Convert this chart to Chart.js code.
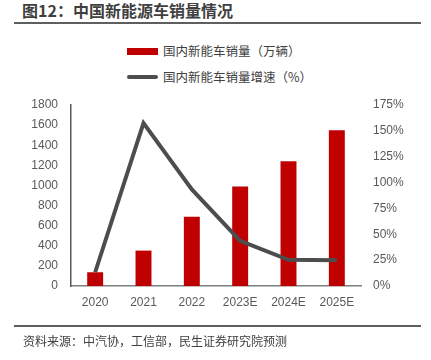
<!DOCTYPE html>
<html><head><meta charset="utf-8">
<script src="https://cdn.jsdelivr.net/npm/chart.js@4/dist/chart.umd.min.js"></script>
<style>
html,body{margin:0;padding:0;background:#fff;}
#wrap{position:relative;width:431px;height:360px;overflow:hidden;font-family:"Noto Sans CJK SC","Microsoft YaHei",sans-serif;}
#title{position:absolute;left:22px;top:0px;font-size:16px;font-weight:bold;color:#3f3f3f;line-height:20px;white-space:nowrap;}
.hline{position:absolute;left:14px;width:407px;height:2px;background:#5f5f5f;}
#src{position:absolute;left:23px;top:332px;font-size:12px;color:#404040;line-height:18px;white-space:nowrap;}
.leg{position:absolute;left:127px;font-size:12.5px;color:#404040;line-height:18px;white-space:nowrap;display:flex;align-items:center;}
.leg span.sw{display:inline-block;width:31px;margin-right:5px;}
#cv{position:absolute;left:0;top:0;}
</style></head>
<body><div id="wrap">
<div id="title">图12：中国新能源车销量情况</div>
<div class="hline" style="top:22px"></div>
<div id="legend"></div>
<canvas id="cv" width="431" height="360"></canvas>
<div class="hline" style="top:325px"></div>
<div id="src">资料来源：中汽协，工信部，民生证券研究院预测</div>
</div>
<script>
const categories = ["2020","2021","2022","2023E","2024E","2025E"];
const salesValues = [136.7, 352.1, 688.7, 990, 1240, 1550];
const growthValues = [13.3, 157.5, 93.4, 43.7, 25.3, 25.0];
const leftTicks = [0,200,400,600,800,1000,1200,1400,1600,1800];
const rightTicks = [0,25,50,75,100,125,150,175];
const salesLabel = "国内新能车销量（万辆）";
const growthLabel = "国内新能车销量增速（%）";

const RED = "#C00000", GRAY = "#4d4d4d";

// HTML legend built from dataset labels
const legend = document.getElementById('legend');
legend.innerHTML =
  '<div class="leg" style="top:42px"><span class="sw" style="height:7px;background:'+RED+'"></span>'+salesLabel+'</div>'+
  '<div class="leg" style="top:68px"><span class="sw" style="height:4px;border-radius:2px;background:'+GRAY+'"></span>'+growthLabel+'</div>';

const tickFont = {family:"'Liberation Sans', Arial, sans-serif", size:12};
new Chart(document.getElementById('cv'), {
  data: {
    labels: categories,
    datasets: [
      {type:'line', label:growthLabel, data:growthValues, yAxisID:'y1', borderColor:GRAY, borderWidth:4,
       pointRadius:0, tension:0, order:0, borderCapStyle:'butt', borderJoinStyle:'miter'},
      {type:'bar', label:salesLabel, data:salesValues, yAxisID:'y', backgroundColor:RED,
       barPercentage:0.33, categoryPercentage:1, order:1}
    ]
  },
  options: {
    responsive:false, animation:false, devicePixelRatio:1,
    layout:{padding:{left:21, right:20, top:105, bottom:44}},
    plugins:{legend:{display:false}, tooltip:{enabled:false}},
    scales:{
      x:{grid:{display:false, drawTicks:false}, border:{display:true, color:'#7f7f7f', width:1.5},
         ticks:{color:'#595959', font:tickFont, padding:9, maxRotation:0},
         afterFit:s=>{s.height=30;}},
      y:{position:'left', min:0, max:1800, grid:{display:false, drawTicks:false},
         border:{display:true, color:'#595959', width:1.5},
         afterBuildTicks:s=>{s.ticks = leftTicks.map(v=>({value:v}));},
         ticks:{color:'#595959', font:tickFont, padding:13, callback:v=>String(v)},
         afterFit:s=>{s.width=50;}},
      y1:{position:'right', min:0, max:175, grid:{display:false, drawTicks:false},
         border:{display:false},
         afterBuildTicks:s=>{s.ticks = rightTicks.map(v=>({value:v}));},
         ticks:{color:'#595959', font:tickFont, padding:12, callback:v=>v+'%'},
         afterFit:s=>{s.width=50;}}
    }
  }
});
</script>
</body></html>
